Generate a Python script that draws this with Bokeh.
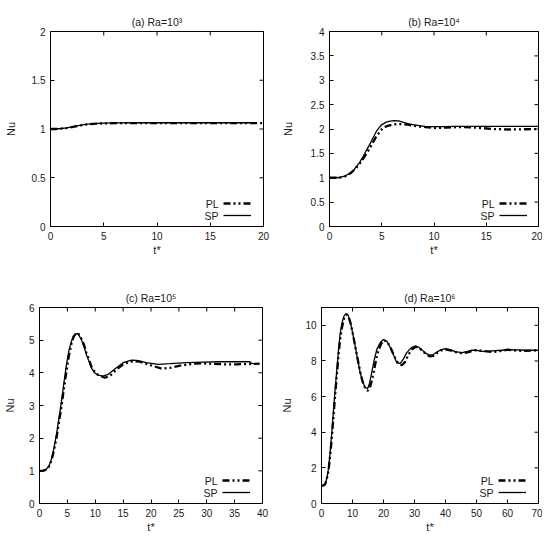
import math
from bokeh.plotting import figure
from bokeh.layouts import column, row
from bokeh.models import FixedTicker, Range1d, Legend, LegendItem, Label
from bokeh.embed import file_html
from bokeh.resources import INLINE

# ---------------- data ----------------
# (a) Ra=10^3
a_sp_t = [0, 0.5, 1, 1.5, 2, 2.5, 3, 3.5, 4, 5, 6, 8, 10, 12, 15, 19]
a_sp_nu = [1.0, 1.0, 1.005, 1.012, 1.022, 1.033, 1.043, 1.051, 1.056, 1.061, 1.063, 1.064, 1.064, 1.064, 1.064, 1.064]
a_pl_t = [0, 0.5, 1, 1.5, 2, 2.5, 3, 3.5, 4, 5, 6, 8, 10, 12, 15, 20]
a_pl_nu = [1.0, 1.0, 1.004, 1.01, 1.019, 1.03, 1.04, 1.048, 1.053, 1.058, 1.06, 1.061, 1.061, 1.061, 1.061, 1.061]

# (b) Ra=10^4
b_sp_t = [0, 0.5, 1.0, 1.5, 1.94, 2.3, 2.57, 2.9, 3.2, 3.5, 3.84, 4.2, 4.48, 4.95, 5.43, 5.8, 6.2, 6.6, 7.0, 7.5, 7.97, 8.6, 9.2, 10.0, 10.8, 12, 14, 16, 18, 20]
b_sp_nu = [1.0, 1.0, 1.005, 1.04, 1.09, 1.15, 1.23, 1.32, 1.43, 1.55, 1.68, 1.83, 1.95, 2.08, 2.14, 2.16, 2.17, 2.165, 2.14, 2.11, 2.09, 2.07, 2.05, 2.05, 2.05, 2.052, 2.053, 2.054, 2.055, 2.055]
b_pl_t = [0, 0.5, 1.0, 1.5, 2.0, 2.5, 3.0, 3.4, 3.84, 4.2, 4.48, 4.8, 5.1, 5.5, 6.03, 6.5, 7.0, 7.5, 7.97, 8.6, 9.2, 10.2, 11.2, 12.4, 14, 15.6, 17.3, 18.5, 20]
b_pl_nu = [1.0, 1.0, 1.003, 1.03, 1.09, 1.19, 1.32, 1.45, 1.6, 1.74, 1.85, 1.94, 2.02, 2.06, 2.09, 2.1, 2.1, 2.09, 2.07, 2.05, 2.04, 2.02, 2.03, 2.04, 2.03, 2.0, 1.99, 1.995, 2.0]

# (c) Ra=10^5
c_sp_t = [0, 0.6, 1.26, 1.7, 2.15, 2.6, 3.05, 3.5, 3.95, 4.4, 4.84, 5.3, 5.74, 6.1, 6.52, 6.9, 7.5, 8.0, 8.4, 8.9, 9.3, 9.9, 10.5, 11.4, 12.3, 13.5, 15.0, 16.5, 17.4, 18.3, 19.2, 21.3, 23.4, 26.4, 29.4, 32.3, 35, 37.7, 38.2, 39.2]
c_sp_nu = [1.0, 1.0, 1.05, 1.15, 1.36, 1.7, 2.12, 2.62, 3.14, 3.72, 4.26, 4.7, 4.97, 5.12, 5.2, 5.2, 5.02, 4.8, 4.56, 4.34, 4.15, 4.0, 3.93, 3.9, 3.95, 4.12, 4.31, 4.39, 4.38, 4.35, 4.31, 4.26, 4.28, 4.31, 4.33, 4.34, 4.34, 4.34, 4.28, 4.28]
c_pl_t = [0, 0.6, 1.26, 1.7, 2.15, 2.6, 3.05, 3.5, 3.95, 4.4, 4.84, 5.3, 5.74, 6.1, 6.52, 6.9, 7.5, 8.0, 8.4, 8.9, 9.3, 9.9, 10.5, 11.7, 12.6, 13.8, 15.2, 16.8, 18.0, 19.8, 21.9, 23.4, 25.2, 27.6, 29.4, 33, 35.3, 39.5]
c_pl_nu = [1.0, 1.0, 1.04, 1.13, 1.32, 1.63, 2.02, 2.5, 2.98, 3.55, 4.05, 4.55, 4.9, 5.1, 5.2, 5.22, 5.05, 4.85, 4.62, 4.4, 4.2, 4.03, 3.94, 3.85, 3.9, 4.1, 4.28, 4.36, 4.34, 4.24, 4.13, 4.15, 4.22, 4.28, 4.29, 4.26, 4.26, 4.28]

# (d) Ra=10^6
d_sp_t = [0, 0.6, 1.18, 1.7, 2.26, 2.8, 3.33, 3.9, 4.4, 5.0, 5.5, 6.0, 6.56, 7.2, 7.85, 8.5, 9.25, 10.0, 10.86, 11.7, 12.47, 13.3, 14.1, 14.9, 15.5, 16.2, 17.0, 17.85, 19.0, 20.0, 21.1, 22.2, 23.3, 24.3, 25.4, 26.4, 27.5, 29.0, 30.2, 31.3, 32.4, 33.7, 35.0, 36.1, 37.2, 38.5, 39.9, 41.5, 43.1, 45.3, 46.9, 48.5, 50.1, 51.7, 54, 56, 58, 60.3, 63, 65.7, 70]
d_sp_nu = [1.0, 1.02, 1.1, 1.4, 1.95, 2.9, 4.0, 5.3, 6.4, 7.6, 8.65, 9.5, 10.1, 10.5, 10.66, 10.6, 10.23, 9.6, 8.84, 8.05, 7.35, 6.85, 6.5, 6.45, 6.75, 7.35, 8.05, 8.65, 9.05, 9.2, 9.1, 8.74, 8.3, 7.9, 7.87, 8.1, 8.47, 8.75, 8.84, 8.78, 8.61, 8.43, 8.32, 8.36, 8.5, 8.62, 8.69, 8.64, 8.52, 8.47, 8.52, 8.61, 8.6, 8.54, 8.55, 8.58, 8.6, 8.63, 8.62, 8.6, 8.6]
d_pl_t = [0, 0.6, 1.18, 1.7, 2.26, 2.8, 3.33, 3.9, 4.4, 5.0, 5.5, 6.0, 6.56, 7.3, 8.06, 8.7, 9.4, 10.2, 11.0, 11.9, 12.7, 13.5, 14.3, 14.95, 15.6, 16.4, 17.2, 18.0, 19.2, 20.2, 21.3, 22.4, 23.5, 24.6, 25.9, 27.0, 28.0, 29.2, 30.4, 31.6, 32.8, 34.0, 35.0, 36.3, 37.5, 38.7, 39.9, 41.5, 43.2, 45.3, 47.4, 49.6, 52, 55, 57.5, 60, 63, 65.7, 70]
d_pl_nu = [1.0, 1.01, 1.08, 1.35, 1.85, 2.7, 3.7, 4.95, 6.1, 7.3, 8.35, 9.2, 9.85, 10.4, 10.6, 10.5, 10.1, 9.45, 8.7, 7.9, 7.2, 6.7, 6.4, 6.33, 6.5, 7.0, 7.7, 8.4, 8.95, 9.17, 9.05, 8.7, 8.25, 7.9, 7.76, 7.95, 8.35, 8.65, 8.8, 8.72, 8.52, 8.35, 8.25, 8.3, 8.48, 8.6, 8.65, 8.6, 8.5, 8.43, 8.5, 8.6, 8.57, 8.5, 8.55, 8.63, 8.58, 8.56, 8.6]

titles = ["(a) Ra=10\u00b3", "(b) Ra=10\u2074", "(c) Ra=10\u2075", "(d) Ra=10\u2076"]
x_ends = [20, 20, 40, 70]
y_ends = [2, 4, 6, 11]
x_ticks = [[0, 5, 10, 15, 20], [0, 5, 10, 15, 20], list(range(0, 41, 5)), list(range(0, 71, 10))]
y_ticks = [[0, 0.5, 1, 1.5, 2], [0, 0.5, 1, 1.5, 2, 2.5, 3, 3.5, 4], [0, 1, 2, 3, 4, 5, 6], [0, 2, 4, 6, 8, 10]]
series = [(a_pl_t, a_pl_nu, a_sp_t, a_sp_nu), (b_pl_t, b_pl_nu, b_sp_t, b_sp_nu),
          (c_pl_t, c_pl_nu, c_sp_t, c_sp_nu), (d_pl_t, d_pl_nu, d_sp_t, d_sp_nu)]

# layout: (width, height, left, right, top, bottom)
geo = [(278, 268, 50, 15, 29, 42), (264, 268, 50, 4, 31, 42),
       (278, 268, 39, 16, 39, 33), (264, 268, 43, 4, 39, 33)]
nu_standoff = [12, 14, 10, 9]

FONT = "Liberation Sans"
TXT = "#1a1a1a"
PL_DASH = "7 3 2 3 2 3"


def style_axis(ax, ticks):
    ax.ticker = FixedTicker(ticks=ticks)
    ax.major_tick_in = 4
    ax.major_tick_out = 0
    ax.minor_tick_line_color = None
    ax.axis_line_color = "black"
    ax.major_tick_line_color = "black"
    ax.major_label_text_font = FONT
    ax.major_label_text_color = TXT
    ax.major_label_text_font_size = "10px"
    ax.major_label_standoff = 5
    ax.axis_label_text_font = FONT
    ax.axis_label_text_font_style = "normal"
    ax.axis_label_text_font_size = "11px"
    ax.axis_label_text_color = TXT


figs = []
for i in range(4):
    w, h, bl, br, bt, bb = geo[i]
    p = figure(width=w, height=h, output_backend="svg", toolbar_location=None,
               x_range=Range1d(0, x_ends[i]), y_range=Range1d(0, y_ends[i]),
               min_border_left=bl, min_border_right=br, min_border_top=bt, min_border_bottom=bb)
    p.title.text = titles[i]
    p.title.align = "center"
    p.title.text_font = FONT
    p.title.text_font_style = "normal"
    p.title.text_font_size = "10.5px"
    p.title.text_color = TXT
    p.title.standoff = 7
    p.xgrid.visible = False
    p.ygrid.visible = False
    p.outline_line_color = "black"
    p.background_fill_color = "white"
    p.border_fill_color = "white"

    style_axis(p.xaxis[0], x_ticks[i])
    style_axis(p.yaxis[0], y_ticks[i])
    p.xaxis[0].axis_label = "t*"
    p.yaxis[0].axis_label = "Nu"
    p.xaxis[0].axis_label_standoff = 1
    p.yaxis[0].axis_label_standoff = nu_standoff[i]

    # mirrored inward ticks on the top and right edges (clipped to the frame)
    xt = x_ticks[i]
    yt = y_ticks[i]
    p.scatter(xt, [y_ends[i]] * len(xt), marker="dash", angle=math.pi / 2, size=8,
              line_color="black", line_width=1)
    p.scatter([x_ends[i]] * len(yt), yt, marker="dash", size=8,
              line_color="black", line_width=1)

    pl_t, pl_nu, sp_t, sp_nu = series[i]
    r_pl = p.line(pl_t, pl_nu, line_color="black", line_width=2.3, line_dash=PL_DASH)
    r_sp = p.line(sp_t, sp_nu, line_color="black", line_width=1.3)

    fw = w - bl - br
    leg = Legend(items=[LegendItem(label=" ", renderers=[r_pl]),
                        LegendItem(label=" ", renderers=[r_sp])],
                 location=(fw - 12 - 28, 5),
                 glyph_width=28, glyph_height=12, label_width=0, label_height=12,
                 label_standoff=0, padding=0, spacing=0, margin=0,
                 label_text_font_size="1px",
                 border_line_color=None, background_fill_alpha=0)
    p.add_layout(leg)
    for txt, yy in (("PL", 23), ("SP", 11)):
        p.add_layout(Label(x=fw - 12 - 28 - 5, y=yy, x_units="screen", y_units="screen",
                           text=txt, text_align="right", text_baseline="middle",
                           text_font=FONT, text_font_size="10.5px", text_color=TXT))
    figs.append(p)

layout = column(row(figs[0], figs[1], spacing=0), row(figs[2], figs[3], spacing=0), spacing=0)
open("out.html", "w").write(file_html(layout, INLINE))
